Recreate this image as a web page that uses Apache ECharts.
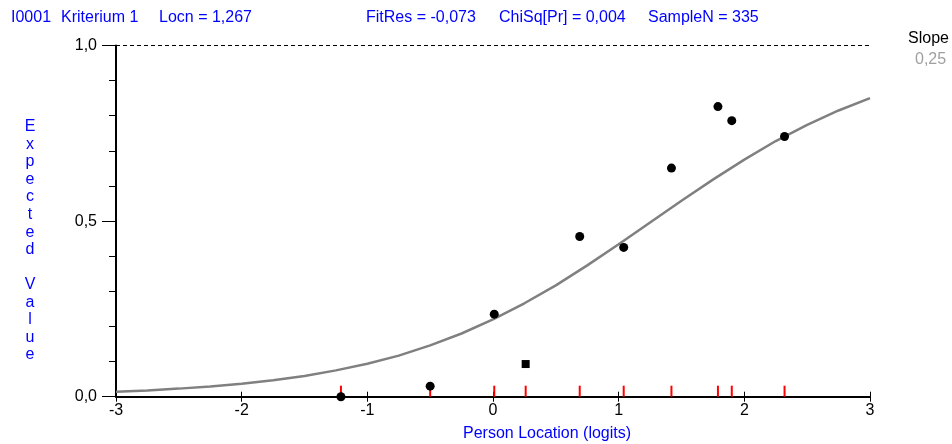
<!doctype html>
<html>
<head>
  <meta charset="utf-8">
  <script src="https://cdn.jsdelivr.net/npm/echarts@6/dist/echarts.min.js"></script>
  <style>
    html, body { margin: 0; padding: 0; background: #fff; }
    #itemChart { width: 952px; height: 444px; }
  </style>
</head>
<body>
  <div id="itemChart"></div>
  <script type="text/javascript">
    // header texts
    var headerTexts = ['I0001', 'Kriterium 1', 'Locn = 1,267', 'FitRes = -0,073', 'ChiSq[Pr] = 0,004', 'SampleN = 335'];
    var slopeLabel = 'Slope';
    var slopeValue = '0,25';
    var yName = 'Expected Value';
    var xName = 'Person Location (logits)';

    // expected value curve
    var curveX = [-3, -2.75, -2.5, -2.25, -2, -1.75, -1.5, -1.25, -1, -0.75, -0.5, -0.25, 0,
                  0.25, 0.5, 0.75, 1, 1.25, 1.5, 1.75, 2, 2.25, 2.5, 2.75, 3];
    var curveY = [0.014, 0.018, 0.023, 0.029, 0.037, 0.047, 0.059, 0.075, 0.094, 0.117, 0.146, 0.180, 0.220,
                  0.266, 0.317, 0.374, 0.434, 0.496, 0.558, 0.618, 0.675, 0.728, 0.774, 0.815, 0.850];

    // observed class means
    var classX = [-1.21, -0.50, 0.01, 0.26, 0.69, 1.04, 1.42, 1.79, 1.90, 2.32];
    var classY = [0.000, 0.030, 0.235, 0.093, 0.456, 0.425, 0.651, 0.826, 0.786, 0.741];

    var blue = '#0000ff';
    var font = 'Liberation Sans';

    function comma(v) { return v.toFixed(1).replace('.', ','); }

    var curveData = curveX.map(function (x, i) { return [x, curveY[i]]; });
    var classData = classX.map(function (x, i) { return [x, classY[i]]; });
    var rugData = classX.map(function (x) { return [x, 0]; });

    var headerX = [11, 61, 159, 366, 499, 648];
    var graphics = headerTexts.map(function (t, i) {
      return { type: 'text', left: headerX[i], top: 10,
        style: { text: t, fill: blue, font: '16px ' + font } };
    });
    graphics.push({ type: 'text', left: 908, top: 31, style: { text: slopeLabel, fill: '#000', font: '16px ' + font } });
    graphics.push({ type: 'text', left: 915, top: 52, style: { text: slopeValue, fill: '#a0a0a0', font: '16px ' + font } });
    graphics.push({ type: 'text', left: 463, top: 426, style: { text: xName, fill: blue, font: '16px ' + font } });
    graphics.push({ type: 'text', x: 30, y: 118,
      style: { text: yName.split('').join('\n'), fill: blue, font: '16px ' + font,
        align: 'center', lineHeight: 17.56 } });

    var myChart = echarts.init(document.getElementById('itemChart'));

    var option = {
      animation: false,
      grid: { left: 116, right: 82, top: 45.5, bottom: 47.3 },
      graphic: graphics,
      xAxis: [
        {
          type: 'value', min: -3, max: 3, interval: 1,
          axisLine: { onZero: false, lineStyle: { color: '#000', width: 2 } },
          axisTick: { length: 5, lineStyle: { color: '#000', width: 1 } },
          axisLabel: { color: '#000', fontSize: 16, fontFamily: font, margin: 6 },
          splitLine: { show: false }
        },
        {
          type: 'value', min: -3, max: 3, interval: 1, position: 'bottom',
          axisLine: { show: false, onZero: false },
          axisTick: { inside: true, length: 5, lineStyle: { color: '#000', width: 1 } },
          axisLabel: { show: false },
          splitLine: { show: false }
        }
      ],
      yAxis: {
        type: 'value', min: 0, max: 1, interval: 0.5,
        axisLine: { show: true, onZero: false, lineStyle: { color: '#000', width: 2 } },
        axisTick: { show: true, length: 14, lineStyle: { color: '#000', width: 1 } },
        minorTick: { show: true, splitNumber: 5, length: 7, lineStyle: { color: '#000', width: 1 } },
        axisLabel: { color: '#000', fontSize: 16, fontFamily: font, margin: 19, formatter: comma },
        splitLine: { show: false }
      },
      series: [
        {
          type: 'line',
          data: curveData,
          symbol: 'none',
          lineStyle: { color: '#808080', width: 2.5 },
          markLine: {
            silent: true, symbol: 'none', label: { show: false },
            lineStyle: { color: '#000', width: 1, type: [4, 3] },
            data: [{ yAxis: 1 }]
          },
          z: 2
        },
        {
          type: 'scatter',
          data: rugData,
          symbol: 'rect',
          symbolSize: [2, 11],
          symbolOffset: [0, -5.5],
          itemStyle: { color: '#ff0000', opacity: 1 },
          z: 3
        },
        {
          type: 'scatter',
          data: classData,
          symbol: function (v, p) { return p.dataIndex === 3 ? 'rect' : 'circle'; },
          symbolSize: function (v, p) { return p.dataIndex === 3 ? 8 : 9; },
          itemStyle: { color: '#000', opacity: 1 },
          z: 4
        }
      ]
    };

    myChart.setOption(option);
  </script>
</body>
</html>
